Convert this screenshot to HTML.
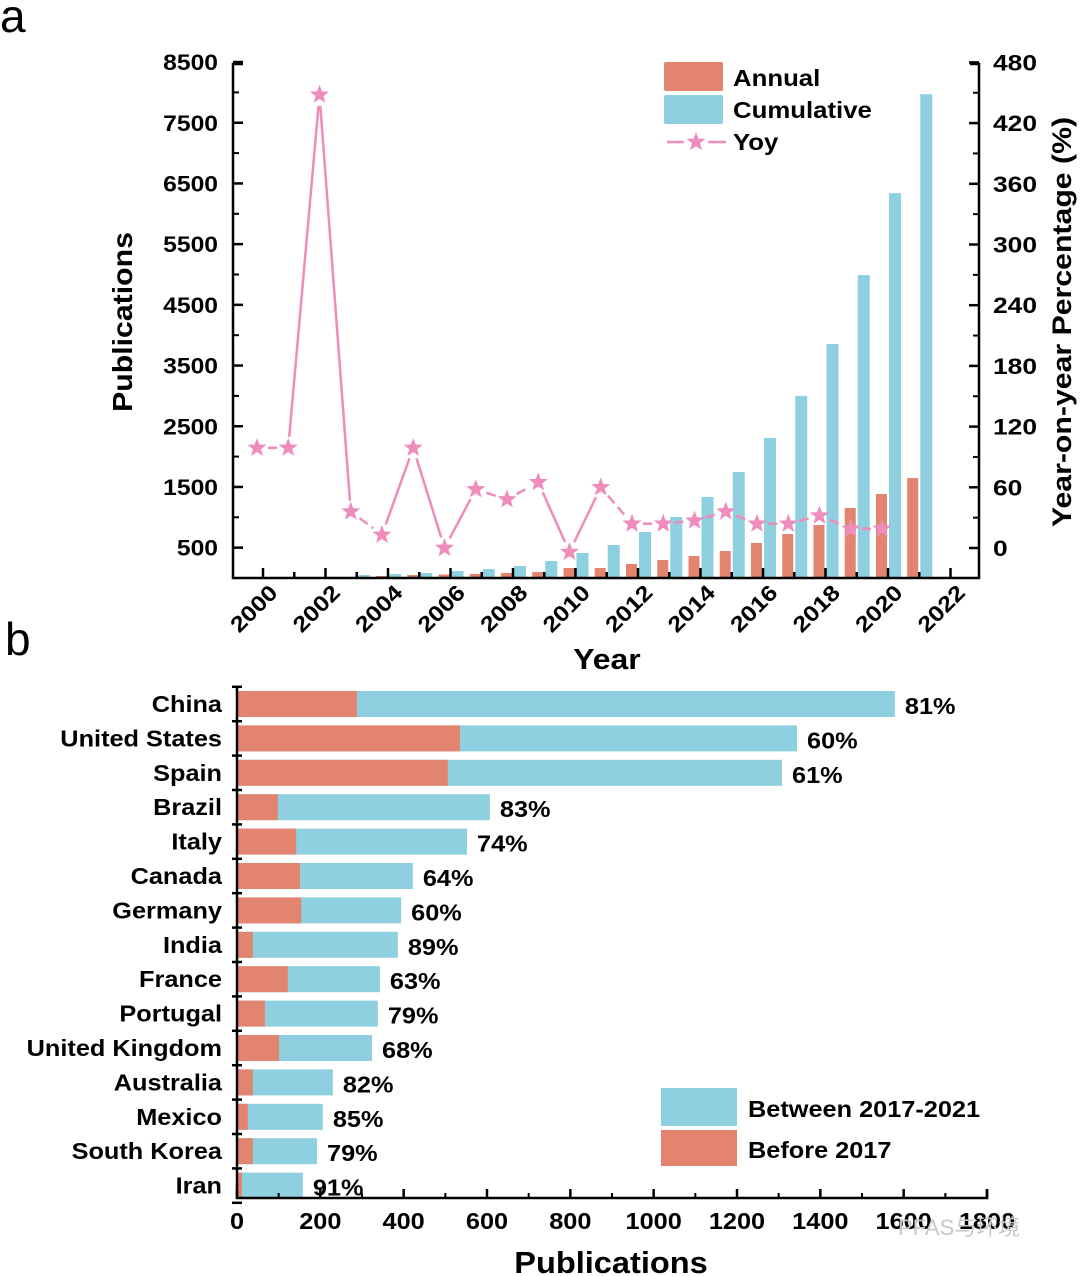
<!DOCTYPE html>
<html><head><meta charset="utf-8"><style>
html,body{margin:0;padding:0;background:#fff}
svg{display:block;font-family:"Liberation Sans",sans-serif;font-weight:bold}
</style></head><body>
<svg id="chart" width="1080" height="1276" viewBox="0 0 1080 1276" xmlns="http://www.w3.org/2000/svg">
<g id="a"></g>
<g id="b"></g>
</svg>
<script>
const years=[2000,2001,2002,2003,2004,2005,2006,2007,2008,2009,2010,2011,2012,2013,2014,2015,2016,2017,2018,2019,2020,2021];
const annual=[5,5,10,16,33,49,58,66,82,99,165,165,231,297,362,445,577,725,873,1153,1384,1647];
const cumulative=[5,10,20,50,66,82,115,148,198,280,412,544,758,1005,1334,1746,2306,3000,3855,4990,6340,7970];
const yoy=[99,99,448,36,13,99,0,58,48,65,-4,60,24,24,27,36,24,24,32,19,19];
const leftTicks=[500,1500,2500,3500,4500,5500,6500,7500,8500];
const rightTicks=[0,60,120,180,240,300,360,420,480];
const xTickYears=[2000,2002,2004,2006,2008,2010,2012,2014,2016,2018,2020,2022];
const countries=["China","United States","Spain","Brazil","Italy","Canada","Germany","India","France","Portugal","United Kingdom","Australia","Mexico","South Korea","Iran"];
const before2017=[288,535,506,98,142,151,154,38,122,67,101,38,26,38,12];
const totals=[1579,1344,1308,607,552,422,394,386,343,338,324,230,206,192,158];
const pctLabels=["81%","60%","61%","83%","74%","64%","60%","89%","63%","79%","68%","82%","85%","79%","91%"];
const bTicks=[0,200,400,600,800,1000,1200,1400,1600,1800];

const NS="http://www.w3.org/2000/svg";
const OR="#e3846f",BL="#8ecfe0",PK="#ee8cbc";
function mk(p,t,a,txt){const e=document.createElementNS(NS,t);for(const k in a)e.setAttribute(k,a[k]);if(txt!==undefined)e.textContent=txt;p.appendChild(e);return e;}
function fit(e,k){const L=e.getComputedTextLength();e.setAttribute('textLength',L*k);e.setAttribute('lengthAdjust','spacingAndGlyphs');return e;}
const X=y=>263+31.25*(y-2000);
const YL=v=>578-v*0.0607;
const YR=v=>548-v*(60.7/60);
const A=document.getElementById('a');
let t=mk(A,'text',{x:0,y:32,'font-size':46,'font-weight':'normal'},'a');

years.forEach((yr,i)=>{
 let r=mk(A,'rect',{x:X(yr)-12,y:YL(annual[i]),width:11,height:578-YL(annual[i]),fill:OR});
 
 let c=mk(A,'rect',{x:X(yr)+1,y:YL(cumulative[i]),width:12,height:578-YL(cumulative[i]),fill:BL});
 
});
let lineG=mk(A,'g',{});
for(let i=0;i<yoy.length-1;i++){
 const x1=X(years[i])-6,y1=YR(yoy[i]),x2=X(years[i+1])-6,y2=YR(yoy[i+1]);
 const d=Math.hypot(x2-x1,y2-y1),g=11;
 if(d>2*g+2){const ux=(x2-x1)/d,uy=(y2-y1)/d;
  mk(lineG,'line',{x1:x1+ux*g,y1:y1+uy*g,x2:x2-ux*g,y2:y2-uy*g,stroke:PK,'stroke-width':2.5,'stroke-dasharray':d>60?'none':'10 5'});}
}
function star(p,cx,cy,r){let s='';for(let k=0;k<10;k++){const rr=k%2?r*0.42:r;const an=-Math.PI/2+k*Math.PI/5;s+=(cx+rr*Math.cos(an))+','+(cy+rr*Math.sin(an))+' ';}return mk(p,'polygon',{points:s,fill:PK});}
yoy.forEach((v,i)=>{let s=star(A,X(years[i])-6,YR(v),10);});
let ax=mk(A,'path',{d:'M243 64H233V578H979V64H970',fill:'none',stroke:'#000','stroke-width':2.5});

leftTicks.forEach(v=>{mk(A,'line',{x1:233,x2:243,y1:YL(v),y2:YL(v),stroke:'#000','stroke-width':2.5});
 if(v<8500)mk(A,'line',{x1:233,x2:239,y1:YL(v+500),y2:YL(v+500),stroke:'#000','stroke-width':2});
 let l=mk(A,'text',{x:218,y:YL(v)+8,'text-anchor':'end','font-size':22},String(v));fit(l,1.12);});
rightTicks.forEach(v=>{mk(A,'line',{x1:969,x2:979,y1:YR(v),y2:YR(v),stroke:'#000','stroke-width':2.5});
 if(v<480)mk(A,'line',{x1:973,x2:979,y1:YR(v+30),y2:YR(v+30),stroke:'#000','stroke-width':2});
 let l=mk(A,'text',{x:993,y:YR(v)+8,'font-size':22},String(v));fit(l,1.2);});
for(let yr=2000;yr<=2022;yr++){const maj=yr%2==0;mk(A,'line',{x1:X(yr),x2:X(yr),y1:578,y2:maj?568:572,stroke:'#000','stroke-width':2.5});}
xTickYears.forEach(yr=>{let l=mk(A,'text',{x:X(yr)+16,y:594,'text-anchor':'end','font-size':22,transform:`rotate(-45 ${X(yr)+16} 594)`},String(yr));fit(l,1.15);});
t=mk(A,'text',{x:607,y:669,'text-anchor':'middle','font-size':29},'Year');fit(t,1.1);
t=mk(A,'text',{x:0,y:0,'text-anchor':'middle','font-size':28,transform:'translate(132 322) rotate(-90)'},'Publications');fit(t,1.08);
t=mk(A,'text',{x:0,y:0,'text-anchor':'middle','font-size':27,transform:'translate(1071 322) rotate(-90)'},'Year-on-year Percentage (%)');fit(t,1.12);
let lg=mk(A,'g',{});
mk(lg,'rect',{x:664,y:62,width:59,height:29,fill:OR,rx:2});
mk(lg,'rect',{x:664,y:95,width:59,height:29,fill:BL,rx:2});
mk(lg,'line',{x1:667,x2:684,y1:142,y2:142,stroke:PK,'stroke-width':2.5});
mk(lg,'line',{x1:708,x2:726,y1:142,y2:142,stroke:PK,'stroke-width':2.5});
star(lg,696,142,10);
fit(mk(lg,'text',{x:733,y:86,'font-size':23},'Annual'),1.12);
fit(mk(lg,'text',{x:733,y:118,'font-size':23},'Cumulative'),1.12);
fit(mk(lg,'text',{x:733,y:150,'font-size':23},'Yoy'),1.12);
const B=document.getElementById('b');
const XB=v=>237+v*(750/1800);
const ROW0=704,RS=34.4;
t=mk(B,'text',{x:5,y:655,'font-size':46,'font-weight':'normal'},'b');
countries.forEach((c,i)=>{const cy=ROW0+i*RS;
 let r1=mk(B,'rect',{x:XB(0),y:cy-13,width:XB(totals[i])-XB(0),height:26,fill:BL});
 let r2=mk(B,'rect',{x:XB(0),y:cy-13,width:XB(before2017[i])-XB(0),height:26,fill:OR});
 let l=mk(B,'text',{x:222,y:cy+8,'text-anchor':'end','font-size':23},c);fit(l,1.1);
 let p=mk(B,'text',{x:XB(totals[i])+10,y:cy+10,'font-size':23},pctLabels[i]);fit(p,1.1);
});
let axb=mk(B,'path',{d:'M237 687V1198H987V1189',fill:'none',stroke:'#000','stroke-width':2.5});
for(let i=0;i<=15;i++){const y=ROW0-RS/2+i*RS;mk(B,'line',{x1:232,x2:242,y1:y,y2:y,stroke:'#000','stroke-width':2.5});}
bTicks.forEach(v=>{mk(B,'line',{x1:XB(v),x2:XB(v),y1:1198,y2:1189,stroke:'#000','stroke-width':2.5});
 if(v<1800)mk(B,'line',{x1:XB(v+100),x2:XB(v+100),y1:1198,y2:1193,stroke:'#000','stroke-width':2});
 let l=mk(B,'text',{x:XB(v),y:1229,'text-anchor':'middle','font-size':23},String(v));fit(l,1.1);});
t=mk(B,'text',{x:611,y:1273,'text-anchor':'middle','font-size':31},'Publications');fit(t,1.05);
let lb=mk(B,'g',{});
mk(lb,'rect',{x:661,y:1088,width:76,height:38,fill:BL});
mk(lb,'rect',{x:661,y:1130,width:76,height:36,fill:OR});
fit(mk(lb,'text',{x:748,y:1117,'font-size':23},'Between 2017-2021'),1.1);
fit(mk(lb,'text',{x:748,y:1158,'font-size':23},'Before 2017'),1.1);
let wm=mk(B,'text',{x:898,y:1235,'font-size':22,'font-weight':'normal',fill:'#c8c8c8','font-family':'"Liberation Sans","Noto Sans CJK SC",sans-serif'},'PFAS与环境');

</script>
</body></html>
